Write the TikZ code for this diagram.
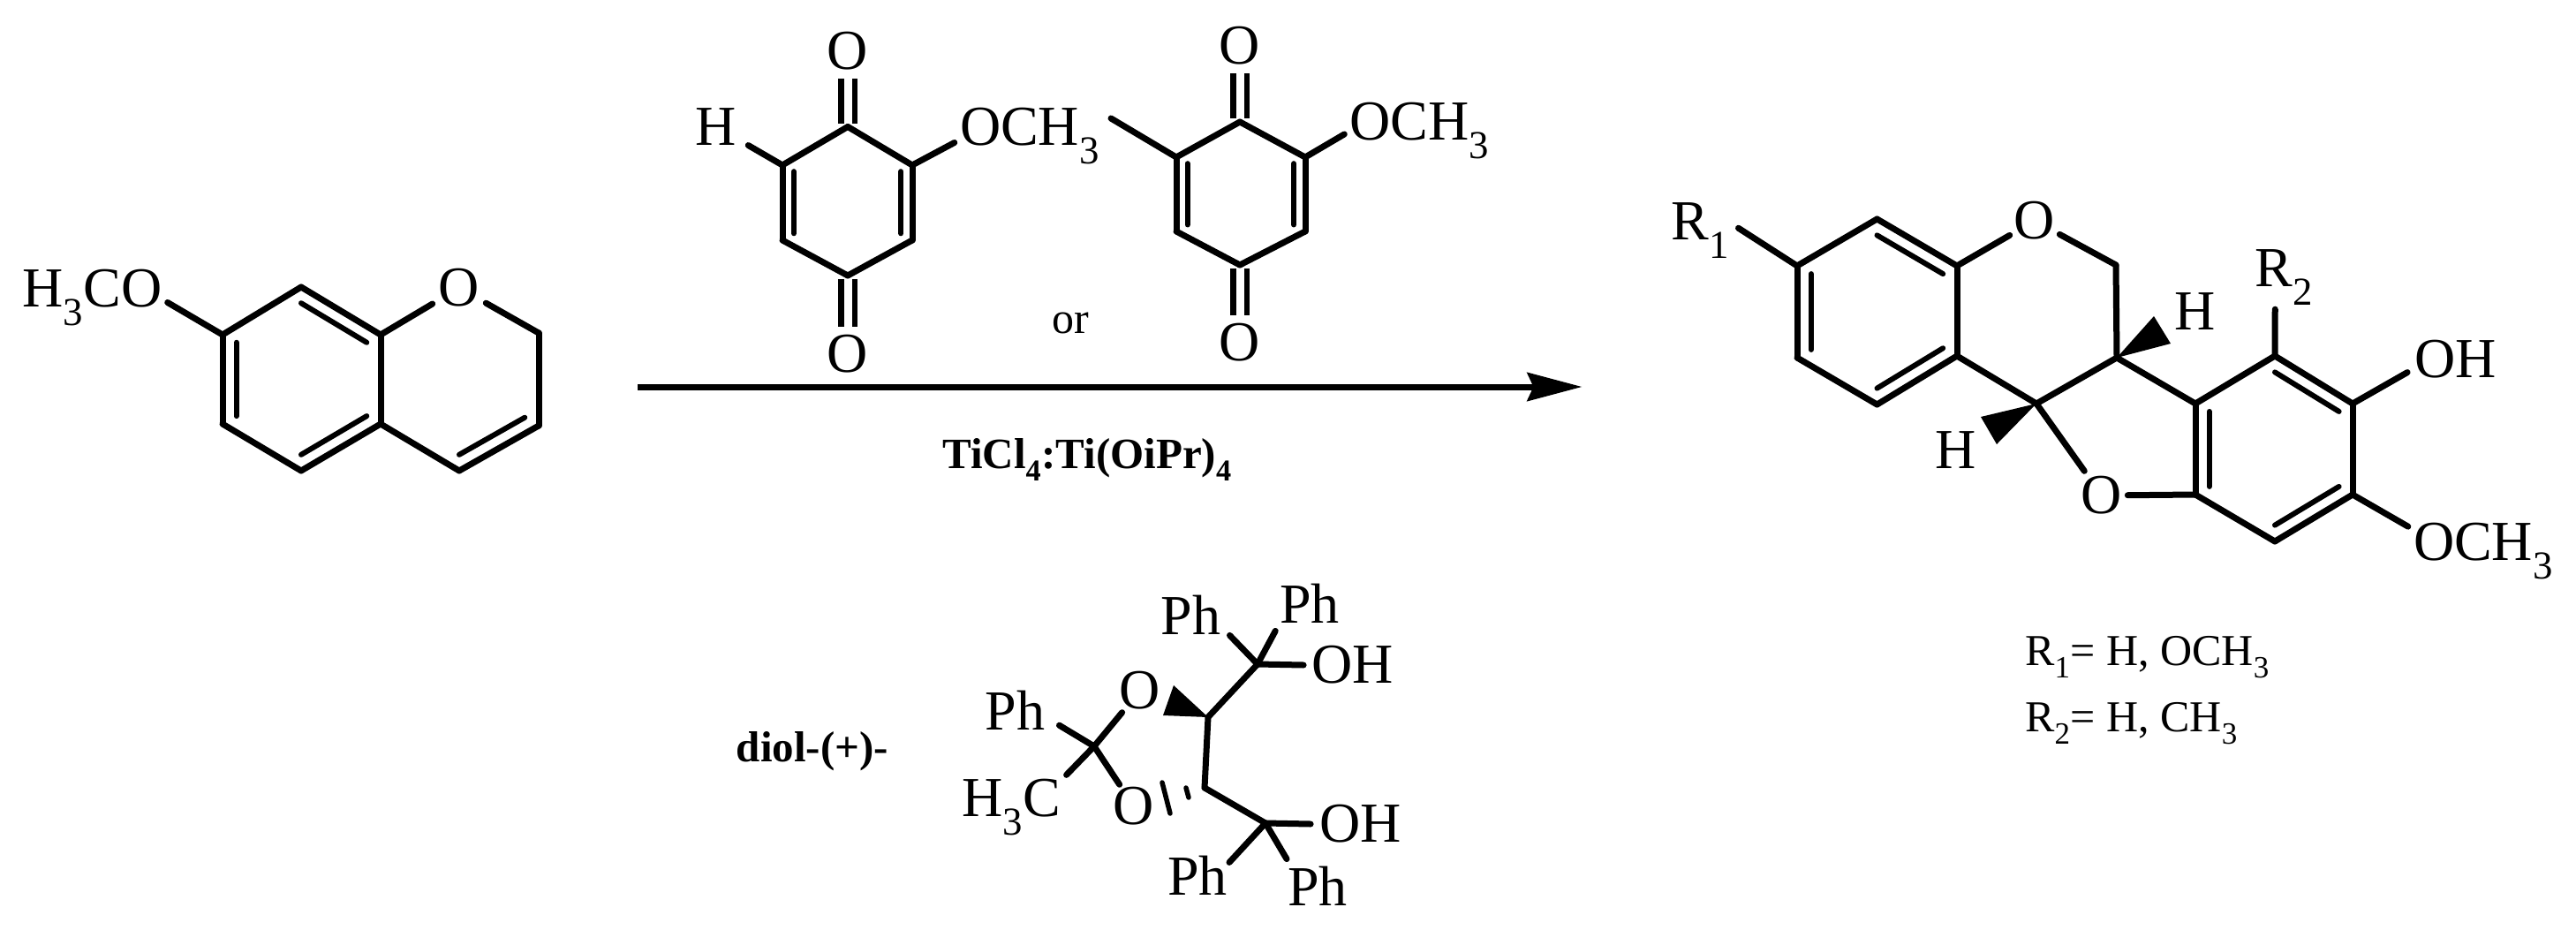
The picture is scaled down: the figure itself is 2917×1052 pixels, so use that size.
\documentclass[tikz,border=0pt]{standalone}
\usepackage{fontspec}
\setmainfont{Liberation Serif}
\usetikzlibrary{calc,arrows.meta}
\tikzset{
  atomlbl/.style={font=\fontsize{64}{70}\selectfont, inner sep=3pt},
  grplbl/.style={font=\fontsize{64}{70}\selectfont, inner sep=6pt, text height=44pt, text depth=14pt},
  legendlbl/.style={font=\fontsize{50}{56}\selectfont, inner sep=0pt, anchor=base west},
  condlbl/.style={font=\fontsize{49}{54}\selectfont\bfseries, inner sep=0pt, anchor=base},
  bond/.style={line width=7pt, line cap=round},
  innerbond/.style={line width=6pt, line cap=round},
  dblbond/.style={double, double distance=9pt, line width=6.5pt, shorten <=4pt},
  hashbond/.style={line width=5.5pt, line cap=round}
}
\newcommand{\inbond}[3]{\draw[innerbond] ($(#1)!.175!(#3)$) to ($(#2)!.175!(#3)$);}
\begin{document}
\begin{tikzpicture}[x=1pt,y=-1pt]
  \useasboundingbox (0,0) rectangle (2917,1052);
  % chromene
  \draw
    (252,379) coordinate (a1)
    (341,325) coordinate (a2)
    (431,379) coordinate (a3)
    (431,480) coordinate (a4)
    (341,533) coordinate (a5)
    (252,480) coordinate (a6)
    (610,377) coordinate (a7)
    (610,482) coordinate (a8)
    (520,533) coordinate (a9)
    (341,429) coordinate (acA)
    (520,429) coordinate (acB)
    (104.5,332) node[grplbl] (meo){H\textsubscript{3}CO}
    (520,326) node[atomlbl, inner sep=7pt] (ao){O};
  \begin{scope}[bond]
    \draw (a1) to (a2);
    \draw (a2) to (a3);
    \draw (a3) to (a4);
    \draw (a4) to (a5);
    \draw (a5) to (a6);
    \draw (a6) to (a1);
    \draw (a3) to (ao);
    \draw (ao) to (a7);
    \draw (a7) to (a8);
    \draw (a8) to (a9);
    \draw (a9) to (a4);
    \draw (a1) to (meo.353);
  \end{scope}
  \inbond{a2}{a3}{acA}
  \inbond{a4}{a5}{acA}
  \inbond{a6}{a1}{acA}
  \inbond{a8}{a9}{acB}
  % first quinone
  \draw
    (960,143.5) coordinate (b1)
    (1033,187) coordinate (b2)
    (1033,272) coordinate (b3)
    (960,312) coordinate (b4)
    (886,272) coordinate (b5)
    (886,187) coordinate (b6)
    (960,228) coordinate (bc)
    (960,58) node[atomlbl, inner sep=9pt] (bo1){O}
    (960,401) node[atomlbl, inner sep=9pt] (bo2){O}
    (811,143.5) node[atomlbl, inner sep=13pt] (bh){H}
    (1166,149.5) node[grplbl] (ome1){OCH\textsubscript{3}};
  \draw[dblbond] (b1) to (bo1);
  \draw[dblbond] (b4) to (bo2);
  \begin{scope}[bond]
    \draw (b1) to (b2);
    \draw (b2) to (b3);
    \draw (b3) to (b4);
    \draw (b4) to (b5);
    \draw (b5) to (b6);
    \draw (b6) to (b1);
    \draw (b6) to (bh);
    \draw (b2) to (ome1.188);
  \end{scope}
  \inbond{b2}{b3}{bc}
  \inbond{b5}{b6}{bc}
  % second quinone
  \draw
    (1404,138) coordinate (c1)
    (1478,178) coordinate (c2)
    (1478,262) coordinate (c3)
    (1404,300) coordinate (c4)
    (1332,262) coordinate (c5)
    (1332,178) coordinate (c6)
    (1404,219) coordinate (cc)
    (1258,134) coordinate (cme)
    (1404,52) node[atomlbl, inner sep=9pt] (co1){O}
    (1404,388) node[atomlbl, inner sep=9pt] (co2){O}
    (1607.5,143) node[grplbl] (ome2){OCH\textsubscript{3}};
  \draw[dblbond] (c1) to (co1);
  \draw[dblbond] (c4) to (co2);
  \begin{scope}[bond]
    \draw (c1) to (c2);
    \draw (c2) to (c3);
    \draw (c3) to (c4);
    \draw (c4) to (c5);
    \draw (c5) to (c6);
    \draw (c6) to (c1);
    \draw (c6) to (cme);
    \draw (c2) to (ome2.186);
  \end{scope}
  \inbond{c2}{c3}{cc}
  \inbond{c5}{c6}{cc}
  % arrow and conditions
  \draw
    (722,438) coordinate (arrs)
    (1791.5,438) coordinate (arre)
    (1212,377) node[legendlbl, anchor=base] (orlbl){or}
    (1231,530) node[condlbl] (cond){TiCl\textsubscript{4}:Ti(OiPr)\textsubscript{4}}
    (920,862) node[condlbl] (diol){diol-(+)-};
  \draw[line width=7pt, -{Stealth[length=62pt,width=32pt,inset=7pt]}] (arrs) to (arre);
  % diol
  \draw
    (1239,845) coordinate (d1)
    (1368,812) coordinate (d2)
    (1364,892) coordinate (d3)
    (1424,752) coordinate (d4)
    (1433,932) coordinate (d5)
    (1329,776) coordinate (dw1)
    (1317,810) coordinate (dw2)
    (1316,886) coordinate (dh1)
    (1325,921) coordinate (dh2)
    (1343,892) coordinate (dh3)
    (1346,903) coordinate (dh4)
    (1291,782) node[atomlbl] (do1){O}
    (1284,913) node[atomlbl] (do2){O}
    (1149.5,804) node[atomlbl, inner sep=16pt] (dp1){Ph}
    (1348.5,696) node[atomlbl, inner sep=10pt] (dp2){Ph}
    (1483,683) node[atomlbl, inner sep=9pt] (dp3){Ph}
    (1356,991) node[atomlbl, inner sep=2pt] (dp4){Ph}
    (1492,1003) node[atomlbl, inner sep=8pt] (dp5){Ph}
    (1531.5,753) node[atomlbl, inner sep=9pt] (doh1){OH}
    (1540.5,933) node[atomlbl, inner sep=10pt] (doh2){OH}
    (1145.5,909) node[grplbl] (dme){H\textsubscript{3}C};
  \fill (d2) -- (dw1) -- (dw2) -- cycle;
  \draw[hashbond] (dh1) to (dh2);
  \draw[hashbond] (dh3) to (dh4);
  \begin{scope}[bond]
    \draw (d1) to (do1);
    \draw (d1) to (do2);
    \draw (d1) to (dp1.341);
    \draw (d1) to (dme.27);
    \draw (d2) to (d3);
    \draw (d2) to (d4);
    \draw (d3) to (d5);
    \draw (d4) to (dp2.332);
    \draw (d4) to (dp3.219);
    \draw (d4) to (doh1.west);
    \draw (d5) to (dp4.22);
    \draw (d5) to (dp5.139);
    \draw (d5) to (doh2.west);
  \end{scope}
  % product
  \draw
    (2035,301) coordinate (e1)
    (2125.5,248) coordinate (e2)
    (2216,301) coordinate (e3)
    (2216,403) coordinate (e4)
    (2125.5,458) coordinate (e5)
    (2035,405) coordinate (e6)
    (2125.5,353) coordinate (ecA)
    (2396,300) coordinate (e7)
    (2397,405) coordinate (e8)
    (2306,457) coordinate (e9)
    (2486,457) coordinate (e10)
    (2576,403) coordinate (e11)
    (2664,457) coordinate (e12)
    (2664,560) coordinate (e13)
    (2576,613) coordinate (e14)
    (2486,560) coordinate (e15)
    (2576,508) coordinate (ecC)
    (2439,358) coordinate (ew1)
    (2458,389) coordinate (ew2)
    (2243,472) coordinate (ew3)
    (2261,503) coordinate (ew4)
    (2304,250) node[atomlbl, inner sep=5pt] (eo1){O}
    (2380,561) node[atomlbl, inner sep=6pt] (eo2){O}
    (2486,353) node[atomlbl] (eh1){H}
    (2215,510) node[atomlbl] (eh2){H}
    (1925.5,256) node[grplbl, inner xsep=10pt] (er1){R\textsubscript{1}}
    (2586.5,309) node[grplbl, inner ysep=12pt] (er2){R\textsubscript{2}}
    (2780.5,407) node[atomlbl, inner sep=8pt] (eoh){OH}
    (2812,619) node[grplbl] (ome3){OCH\textsubscript{3}};
  \fill (e8) -- (ew1) -- (ew2) -- cycle;
  \fill (e9) -- (ew3) -- (ew4) -- cycle;
  \begin{scope}[bond]
    \draw (e1) to (e2);
    \draw (e2) to (e3);
    \draw (e3) to (e4);
    \draw (e4) to (e5);
    \draw (e5) to (e6);
    \draw (e6) to (e1);
    \draw (e3) to (eo1);
    \draw (eo1) to (e7);
    \draw (e7) to (e8);
    \draw (e8) to (e9);
    \draw (e9) to (e4);
    \draw (e8) to (e10);
    \draw (e10) to (e11);
    \draw (e11) to (e12);
    \draw (e12) to (e13);
    \draw (e13) to (e14);
    \draw (e14) to (e15);
    \draw (e15) to (e10);
    \draw (e9) to (eo2);
    \draw (eo2) to (e15);
    \draw (e1) to (er1.357);
    \draw (e11) to (er2.256);
    \draw (e12) to (eoh.195);
    \draw (e13) to (ome3.165);
  \end{scope}
  \inbond{e2}{e3}{ecA}
  \inbond{e4}{e5}{ecA}
  \inbond{e6}{e1}{ecA}
  \inbond{e11}{e12}{ecC}
  \inbond{e13}{e14}{ecC}
  \inbond{e15}{e10}{ecC}
  % legend
  \draw
    (2293,753) node[legendlbl] (leg1){R\textsubscript{1}= H, OCH\textsubscript{3}}
    (2293,828) node[legendlbl] (leg2){R\textsubscript{2}= H, CH\textsubscript{3}};
\end{tikzpicture}
\end{document}
